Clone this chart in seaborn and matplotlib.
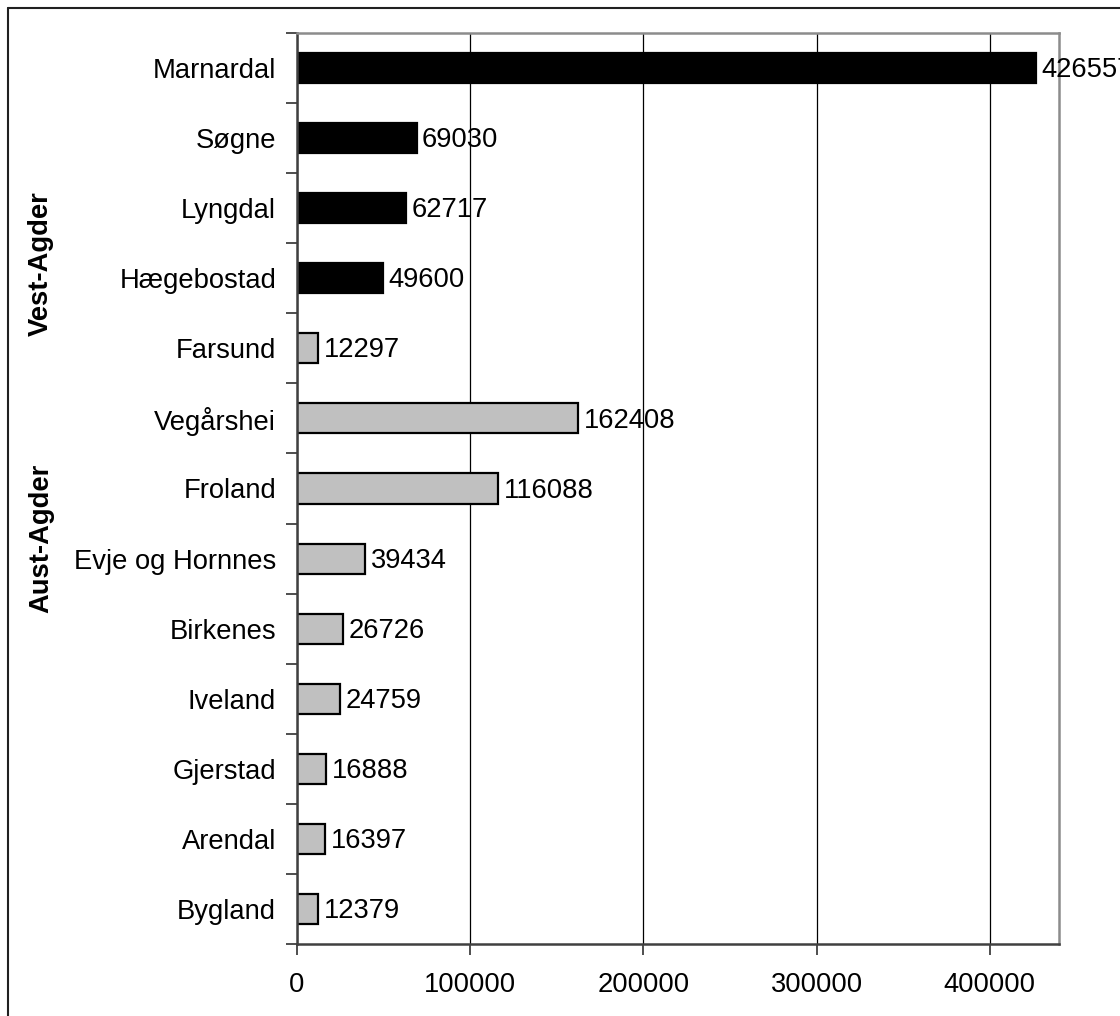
import matplotlib
matplotlib.use("Agg")
import matplotlib.pyplot as plt
from matplotlib.lines import Line2D
from matplotlib.ticker import FixedLocator
import seaborn as sns
import pandas as pd
import numpy as np

municipalities = ["Marnardal", "Søgne", "Lyngdal", "Hægebostad", "Farsund",
                  "Vegårshei", "Froland", "Evje og Hornnes", "Birkenes",
                  "Iveland", "Gjerstad", "Arendal", "Bygland"]
values = [426557, 69030, 62717, 49600, 12297,
          162408, 116088, 39434, 26726, 24759, 16888, 16397, 12379]
color_group = ["dark", "dark", "dark", "dark", "light",
               "light", "light", "light", "light", "light", "light", "light", "light"]
region_labels = ["Vest-Agder", "Aust-Agder"]
x_ticks = [0, 100000, 200000, 300000, 400000]

sns.set_theme(style="white")
plt.rcParams['font.family'] = ['Liberation Sans', 'DejaVu Sans']
plt.rcParams['text.color'] = 'black'

FS = 19.7

df = pd.DataFrame({"name": municipalities, "value": values, "grp": color_group})

fig = plt.figure(figsize=(11.2, 10.16), dpi=100)
ax = fig.add_axes([297/1120, 1-944/1016, (1059-297)/1120, (944-33)/1016])

sns.barplot(data=df, y="name", x="value", hue="grp", orient="h",
            palette={"dark": "#000000", "light": "#c0c0c0"},
            dodge=False, width=0.43, edgecolor="black", linewidth=1.6,
            legend=False, ax=ax, order=municipalities)

for i, v in enumerate(values):
    ax.annotate(f"{v}", xy=(v, i), xytext=(4, -1.5), textcoords="offset points",
                ha="left", va="center", fontsize=FS, color="black")

ax.set_xlim(0, 440000)
ax.set_ylim(len(municipalities) - 0.5, -0.5)
ax.set_xticks(x_ticks)
ax.set_xticklabels([str(t) for t in x_ticks], fontsize=FS)
ax.set_xlabel("")
ax.set_ylabel("")
ax.tick_params(axis="y", which="major", length=0, pad=15, labelsize=FS, labelcolor="black")
ax.yaxis.set_minor_locator(FixedLocator(np.arange(-0.5, len(municipalities), 1.0)))
ax.tick_params(axis="y", which="minor", left=True, length=8, width=1.2, color="#303030", direction="out")
ax.tick_params(axis="x", which="major", bottom=True, length=8, width=1.2, color="#303030",
               direction="out", pad=12, labelcolor="black")

ax.grid(False)
ax.xaxis.grid(True, color="black", linewidth=0.9)
ax.set_axisbelow(True)

for side in ["left", "bottom"]:
    ax.spines[side].set_color("#404040")
    ax.spines[side].set_linewidth(1.8)
for side in ["top", "right"]:
    ax.spines[side].set_color("#8c8c8c")
    ax.spines[side].set_linewidth(1.8)
    ax.spines[side].set_visible(True)

fig.text(41/1120, 1-264/1016, region_labels[0], rotation=90, fontsize=FS,
         fontweight="bold", ha="center", va="center", color="black")
fig.text(41/1120, 1-538/1016, region_labels[1], rotation=90, fontsize=FS,
         fontweight="bold", ha="center", va="center", color="black")

fig.add_artist(Line2D([8/1120, 1.01], [1-8/1016, 1-8/1016], transform=fig.transFigure,
                      color="#202020", linewidth=1.5))
fig.add_artist(Line2D([8/1120, 8/1120], [1-8/1016, -0.01], transform=fig.transFigure,
                      color="#202020", linewidth=1.5))

fig.savefig("out.png", dpi=100)
